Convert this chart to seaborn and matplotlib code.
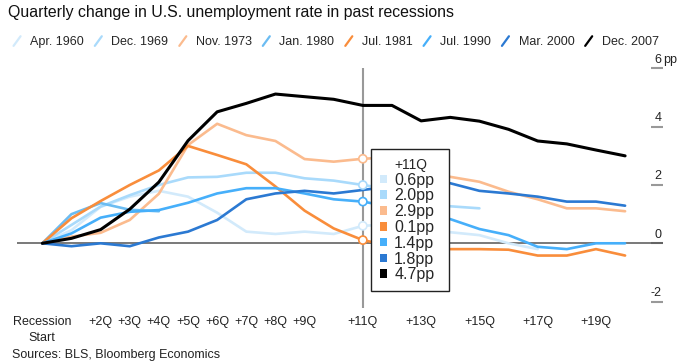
#Importamos librerias
import pandas as pd
import numpy as np
import matplotlib
matplotlib.use("Agg")
import matplotlib.pyplot as plt
import matplotlib.transforms as mtransforms
from matplotlib.lines import Line2D
from matplotlib.patches import Patch
from matplotlib.legend_handler import HandlerBase
import seaborn as sns

#----------------------------------------------------------
# Datos: cambio trimestral (pp) desde el inicio de cada recesion

recessions = ["Apr. 1960", "Dec. 1969", "Nov. 1973", "Jan. 1980",
              "Jul. 1981", "Jul. 1990", "Mar. 2000", "Dec. 2007"]
colors = ["#d2eafb", "#a9dafb", "#fbbb8e", "#6bbcf2",
          "#f98d3b", "#46affa", "#2b79d2", "#000000"]

apr1960 = [0, 0.45, 1.25, 1.6, 1.8, 1.6, 1.05, 0.4, 0.32, 0.4, 0.32, 0.6,
           0.65, 0.5, 0.38, 0.28, 0.0, -0.2]
dec1969 = [0, 0.63, 1.26, 1.65, 2.0, 2.26, 2.28, 2.42, 2.42, 2.23, 2.15, 2.0,
           1.85, 1.5, 1.27, 1.2]
nov1973 = [0, 0.23, 0.36, 0.8, 1.7, 3.37, 4.1, 3.71, 3.51, 2.89, 2.8, 2.9,
           2.95, 2.55, 2.28, 2.11, 1.77, 1.51, 1.2, 1.2, 1.1]
jan1980 = [0, 1.0, 1.38, 1.15, 1.1]
jul1981 = [0, 0.86, 1.45, 2.0, 2.5, 3.34, 3.03, 2.71, 1.95, 1.12, 0.51, 0.11,
           -0.1, -0.15, -0.2, -0.2, -0.22, -0.42, -0.42, -0.2, -0.42]
jul1990 = [0, 0.34, 0.88, 1.08, 1.14, 1.39, 1.71, 1.89, 1.89, 1.71, 1.51, 1.43,
           1.25, 1.0, 0.83, 0.49, 0.28, -0.12, -0.2, 0.0, 0.0]
mar2000 = [0, -0.1, 0.0, -0.1, 0.2, 0.4, 0.8, 1.51, 1.71, 1.8, 1.71, 1.83,
           1.95, 2.15, 2.06, 1.8, 1.71, 1.6, 1.43, 1.43, 1.29]
dec2007 = [0, 0.17, 0.47, 1.17, 2.1, 3.52, 4.51, 4.8, 5.12, 5.03, 4.94, 4.73,
           4.73, 4.2, 4.32, 4.19, 3.91, 3.51, 3.41, 3.2, 3.0]

series = [apr1960, dec1969, nov1973, jan1980, jul1981, jul1990, mar2000, dec2007]

tick_q = [0, 2, 3, 4, 5, 6, 7, 8, 9, 11, 13, 15, 17, 19]
tick_labels = ["Recession\nStart", "+2Q", "+3Q", "+4Q", "+5Q", "+6Q", "+7Q",
               "+8Q", "+9Q", "+11Q", "+13Q", "+15Q", "+17Q", "+19Q"]
y_ticks = [6, 4, 2, 0, -2]
hover_q = 11
# circulos visibles sobre la linea +11Q
marker_recessions = ["Apr. 1960", "Dec. 1969", "Nov. 1973", "Jul. 1981", "Jul. 1990"]

rows = []
for name, vals in zip(recessions, series):
    for q, v in enumerate(vals):
        rows.append({"recession": name, "quarter": q, "change": v})
df = pd.DataFrame(rows)

#----------------------------------------------------------

sns.set_style("white")
plt.rcParams["font.family"] = ["Liberation Sans", "DejaVu Sans"]

fig = plt.figure(figsize=(6.82, 3.64), dpi=100)
ax = fig.add_axes([0.0249, 0.1538, 0.9472, 0.6583])

ax.axhline(0, color="#555555", lw=1.1, zorder=1)
ax.axvline(hover_q, color="#999999", lw=1.5, zorder=1.5)

for name, color in zip(recessions, colors):
    d = df[df["recession"] == name]
    lw = 2.2 if color == "#000000" else 1.9
    sns.lineplot(data=d, x="quarter", y="change", color=color, lw=lw,
                 ax=ax, legend=False, zorder=2)

# valores en +11Q
hover_colors, hover_vals = [], []
mk_colors, mk_vals = [], []
for name, color, vals in zip(recessions, colors, series):
    if len(vals) > hover_q:
        hover_colors.append(color)
        hover_vals.append(vals[hover_q])
        if name in marker_recessions:
            mk_colors.append(color)
            mk_vals.append(vals[hover_q])
ax.scatter([hover_q] * len(mk_vals), mk_vals, s=34, facecolor="white",
           edgecolor=mk_colors, linewidth=1.2, zorder=4)

ax.set_xlim(-0.87, 21.3)
ax.set_ylim(-2.22, 6.0)
for s in ax.spines.values():
    s.set_visible(False)

ax.set_xticks(tick_q)
ax.set_xticklabels(tick_labels, linespacing=1.35)
ax.tick_params(axis="x", direction="in", length=4, width=1, color="#999999",
               pad=6, labelsize=9, labelcolor="#222222")
ax.yaxis.tick_right()
ax.set_yticks(y_ticks)
ax.set_yticklabels([])
ax.tick_params(axis="y", direction="in", length=8.6, width=1.5, color="#999999")
ax.set_xlabel("")
ax.set_ylabel("")

trans = mtransforms.blended_transform_factory(ax.transAxes, ax.transData)
for v in y_ticks:
    ax.annotate(str(v), (1, v), xycoords=trans, xytext=(-1, 2),
                textcoords="offset points", ha="right", va="bottom",
                fontsize=9, color="#222222")
ax.annotate("pp", (1, y_ticks[0]), xycoords=trans, xytext=(0, 2),
            textcoords="offset points", ha="left", va="bottom",
            fontsize=9, color="#222222", annotation_clip=False)

# recuadro del tooltip (la cabecera va como primera fila sin cuadro)
tip_handles = [Patch(facecolor="none", edgecolor="none")]
tip_handles += [Patch(facecolor=c, edgecolor="none") for c in hover_colors]
tip_labels = [f"+{hover_q}Q"] + [f"{v:.1f}pp" for v in hover_vals]
tip = ax.legend(tip_handles, tip_labels, loc="upper left", mode="expand",
                bbox_to_anchor=(371 / 682, 1 - 290 / 364, 78 / 682, 141 / 364),
                bbox_transform=fig.transFigure, borderaxespad=0,
                frameon=True, fancybox=False, edgecolor="#222222",
                framealpha=1, fontsize=11.5, handlelength=0.44,
                handleheight=0.44, handletextpad=0.46, labelspacing=0.05,
                borderpad=0.55)
tip.get_frame().set_linewidth(1.0)
tip.get_texts()[0].set_fontsize(10)
tip.set_zorder(6)


# leyenda superior con barras inclinadas
class SlashHandler(HandlerBase):
    def create_artists(self, legend, orig_handle, xdescent, ydescent,
                       width, height, fontsize, trans):
        line = Line2D([-xdescent + 0.1 * width, -xdescent + 0.9 * width],
                      [-ydescent - 0.1 * height, -ydescent + 1.0 * height],
                      color=orig_handle.get_color(),
                      lw=orig_handle.get_linewidth(), transform=trans)
        return [line]


handles = [Line2D([], [], color=c, lw=1.6) for c in colors]
fig.legend(handles, recessions, handler_map={Line2D: SlashHandler()},
           ncol=len(recessions), loc="upper left",
           bbox_to_anchor=(0.012 + 4.5 / 682, 1 - 36 / 364), frameon=False,
           fontsize=9, handlelength=0.7, handletextpad=0.7, columnspacing=0.8,
           borderaxespad=0, borderpad=0)

fig.text(8 / 682, 1 - 12 / 364,
         "Quarterly change in U.S. unemployment rate in past recessions",
         ha="left", va="center", fontsize=11.4, color="#111111")
fig.text(12 / 682, 1 - 355 / 364, "Sources: BLS, Bloomberg Economics",
         ha="left", va="center", fontsize=9, color="#222222")

fig.savefig("out.png", dpi=100)
